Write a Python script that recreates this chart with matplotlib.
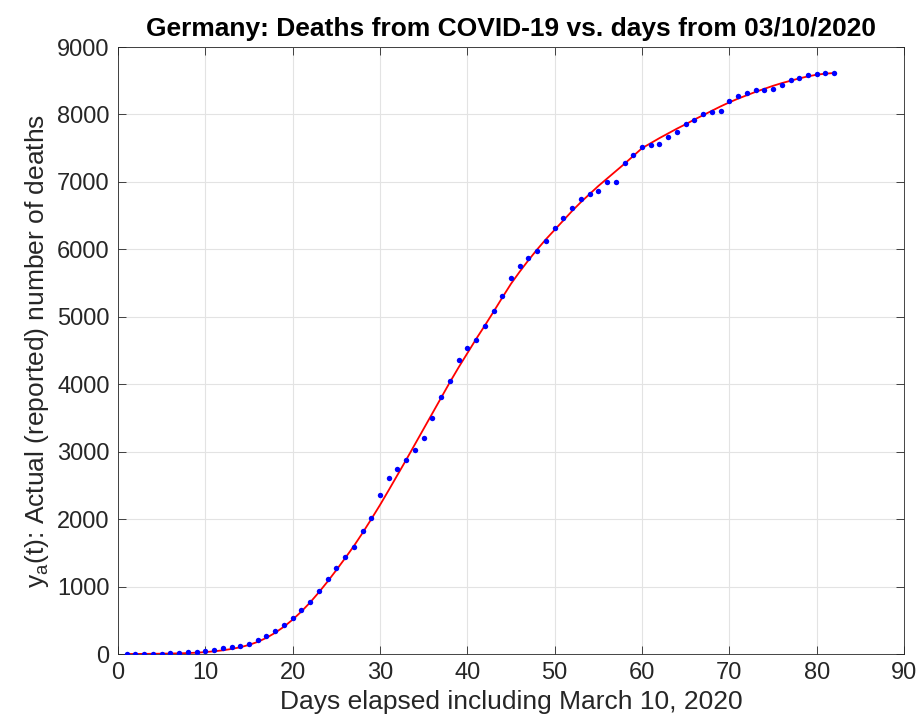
import matplotlib
matplotlib.use("Agg")
import matplotlib.pyplot as plt

# reported deaths, day 1 = March 10, 2020
days = list(range(1, 83))
deaths = [2, 2, 3, 5, 6, 9, 15, 25, 27, 40,
          65, 85, 100, 120, 153, 205, 262, 346, 430, 540,
          650, 777, 935, 1105, 1275, 1440, 1584, 1817, 2020, 2351,
          2609, 2738, 2876, 3025, 3198, 3500, 3812, 4054, 4355, 4535,
          4650, 4860, 5080, 5313, 5571, 5754, 5873, 5975, 6127, 6313,
          6467, 6620, 6740, 6815, 6864, 6993, 6993, 7280, 7395, 7520,
          7549, 7569, 7666, 7741, 7861, 7925, 8005, 8035, 8055, 8199,
          8279, 8318, 8363, 8368, 8378, 8438, 8512, 8547, 8582, 8602,
          8612, 8612]

# fitted curve at each day
fit_days = list(range(1, 83))
fit_vals = [0, 1, 2, 3, 5, 7, 10, 14, 20, 28,
            40, 55, 75, 100, 135, 180, 240, 315, 405, 510,
            630, 765, 915, 1075, 1245, 1420, 1600, 1795, 2000, 2210,
            2430, 2655, 2880, 3110, 3340, 3570, 3800, 4030, 4250, 4460,
            4670, 4870, 5075, 5285, 5490, 5670, 5840, 6000, 6150, 6290,
            6430, 6570, 6700, 6820, 6940, 7050, 7160, 7270, 7385, 7500,
            7575, 7650, 7720, 7790, 7855, 7925, 7990, 8055, 8120, 8180,
            8235, 8285, 8335, 8380, 8425, 8465, 8500, 8535, 8565, 8590,
            8605, 8615]

xticks = list(range(0, 91, 10))
yticks = list(range(0, 9001, 1000))

plt.rcParams['font.family'] = ['Liberation Sans', 'DejaVu Sans']
plt.rcParams['mathtext.fontset'] = 'custom'
plt.rcParams['mathtext.rm'] = 'Liberation Sans'

fig = plt.figure(figsize=(9.24, 7.27), dpi=100)
ax = fig.add_axes([0.1277, 0.1004, 0.8507, 0.8349])

ax.plot(days, deaths, 'o', color='blue', ms=3.9, mec='none', zorder=3)
ax.plot(fit_days, fit_vals, '-', color='red', lw=1.3, zorder=2)

ax.set_xlim(0, 90)
ax.set_ylim(0, 9000)
ax.set_xticks(xticks)
ax.set_yticks(yticks)
ax.grid(True, color='#e3e3e3', lw=0.8)
ax.set_axisbelow(True)

gray = '#262626'
for s in ax.spines.values():
    s.set_color(gray)
    s.set_linewidth(0.6)
ax.tick_params(direction='in', length=6, width=0.6, colors=gray,
               labelsize=17, top=True, right=True, pad=6)

ax.set_title('Germany: Deaths from COVID-19 vs. days from 03/10/2020',
             fontsize=19, fontweight='bold', pad=8)
ax.set_xlabel('Days elapsed including March 10, 2020', fontsize=19, color=gray)
ax.set_ylabel(r'y$_\mathregular{a}$(t): Actual (reported) number of deaths',
              fontsize=19, color=gray)

fig.savefig('out.png', dpi=100)
